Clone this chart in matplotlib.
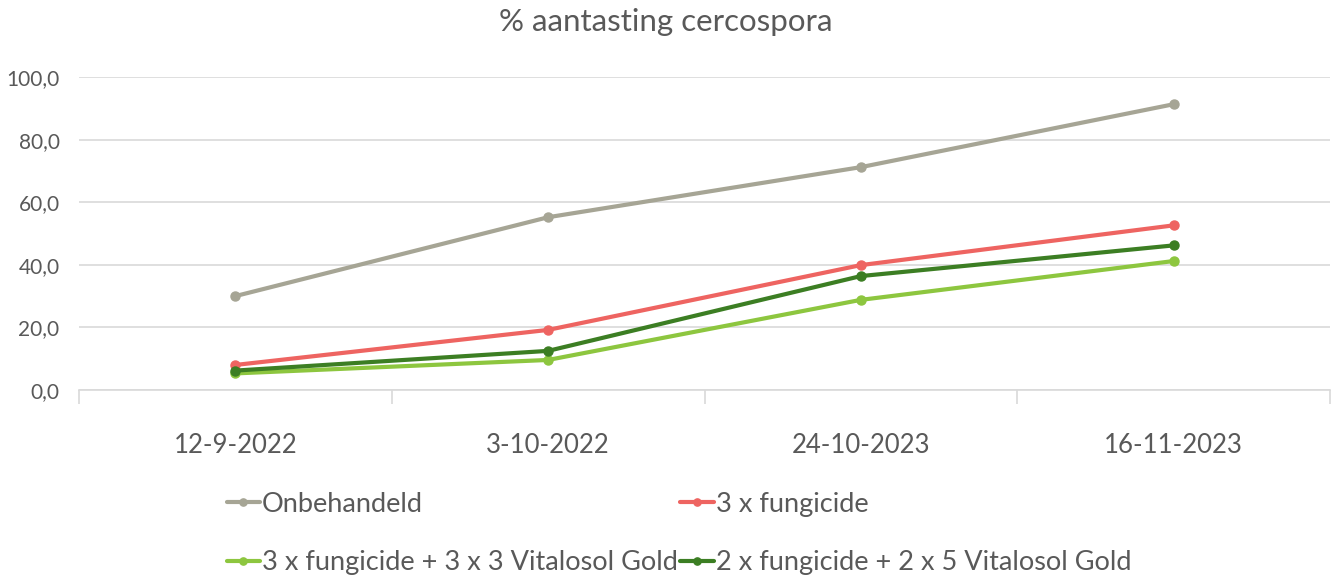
import numpy as np
import matplotlib.pyplot as plt

plt.rcParams['font.family'] = ['Lato', 'DejaVu Sans']

dates = ["12-9-2022", "3-10-2022", "24-10-2023", "16-11-2023"]
onbehandeld = [30.0, 55.2, 71.2, 91.3]
fungicide_3x = [8.0, 19.2, 39.9, 52.6]
fung_vita_3x3 = [5.3, 9.6, 28.8, 41.2]
fung_vita_2x5 = [6.2, 12.5, 36.4, 46.2]

series = [
    ("Onbehandeld", onbehandeld, "#A6A595"),
    ("3 x fungicide", fungicide_3x, "#EE6461"),
    ("3 x fungicide + 3 x 3 Vitalosol Gold", fung_vita_3x3, "#8DC63F"),
    ("2 x fungicide + 2 x 5 Vitalosol Gold", fung_vita_2x5, "#3C7E23"),
]

text_col = "#595959"
grid_col = "#D9D9D9"

fig = plt.figure(figsize=(13.32, 5.77), dpi=100)
ax = fig.add_axes([79 / 1332, 187 / 577, 1251 / 1332, 313 / 577])

x = np.arange(len(dates))
lines = []
for name, vals, col in series:
    ln, = ax.plot(x, vals, color=col, lw=3, marker="o", ms=6.5, label=name,
                  solid_capstyle="round", clip_on=False)
    lines.append(ln)

ax.set_xlim(-0.5, len(dates) - 0.5)
ax.set_ylim(0, 100)
ax.set_yticks(np.arange(0, 101, 20))
ax.set_yticklabels([f"{v:.1f}".replace(".", ",") for v in range(0, 101, 20)],
                   fontsize=15, color=text_col)
ax.yaxis.grid(True, color=grid_col, lw=1.2)
ax.set_axisbelow(True)
ax.tick_params(axis="y", length=0, pad=14)

ax.set_xticks(x)
ax.set_xticklabels(dates, fontsize=18.5, color=text_col)
ax.set_xticks(np.arange(-0.5, len(dates), 1), minor=True)
ax.tick_params(axis="x", which="major", length=0, pad=31)
ax.tick_params(axis="x", which="minor", length=10, color=grid_col, width=1.2)

for s in ["top", "right", "left"]:
    ax.spines[s].set_visible(False)
ax.spines["bottom"].set_color(grid_col)
ax.spines["bottom"].set_linewidth(1.2)

fig.suptitle("% aantasting cercospora", fontsize=22.5, color=text_col, y=0.987)

# row-major legend order: matplotlib fills columns first
order = [0, 2, 1, 3]
fig.legend([lines[i] for i in order], [series[i][0] for i in order],
           loc="upper left", bbox_to_anchor=(213 / 1332, 1 - 478 / 577), ncol=2,
           frameon=False, fontsize=19.5, labelcolor=text_col, handlelength=1.25,
           handletextpad=0.05, columnspacing=0.1, labelspacing=1.25,
           markerscale=0.8, borderpad=0)

fig.savefig("out.png", dpi=100)
